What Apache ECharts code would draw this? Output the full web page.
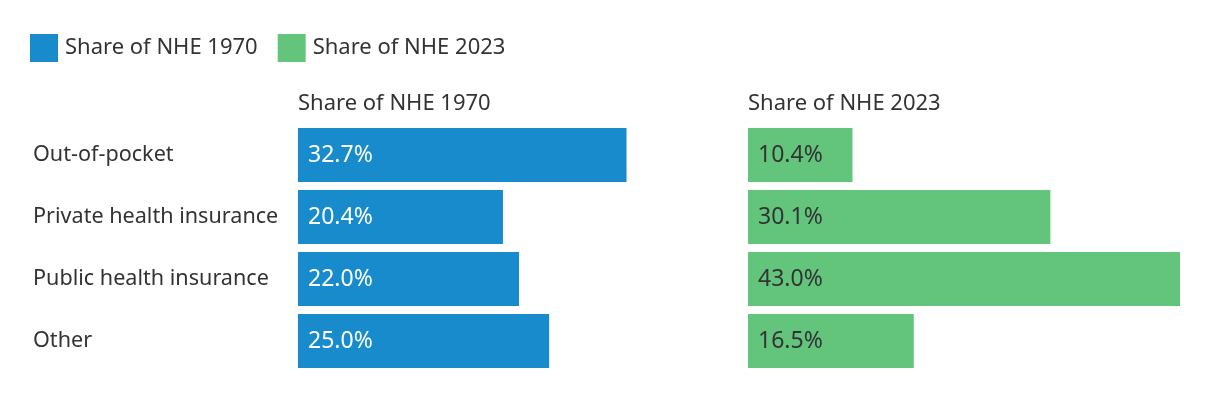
<!DOCTYPE html>
<html>
<head>
<meta charset="utf-8">
<script src="https://cdn.jsdelivr.net/npm/echarts@6/dist/echarts.min.js"></script>
<style>
  html, body { margin: 0; padding: 0; background: #fff; }
  #chart { width: 1220px; height: 398px; }
</style>
</head>
<body>
<div id="chart"></div>
<script>
const categories = ['Out-of-pocket', 'Private health insurance', 'Public health insurance', 'Other']
const share1970 = [32.7, 20.4, 22.0, 25.0]
const share2023 = [10.4, 30.1, 43.0, 16.5]
const seriesNames = ['Share of NHE 1970', 'Share of NHE 2023']

const chart = echarts.init(document.getElementById('chart'))
const font = '"Noto Sans", sans-serif'
const textColor = '#333333'
const blue = '#178bcb'
const green = '#63c57c'

const option = {
  textStyle: { fontFamily: font },
  legend: {
    left: 25,
    top: 29,
    icon: 'rect',
    itemWidth: 28,
    itemHeight: 28,
    itemGap: 20,
    data: seriesNames,
    textStyle: { fontSize: 22, color: textColor, fontFamily: font, padding: [0, 0, 0, 2] }
  },
  title: [
    { text: seriesNames[0], left: 293, top: 88, textStyle: { fontSize: 22, fontWeight: 'normal', color: textColor, fontFamily: font } },
    { text: seriesNames[1], left: 743, top: 88, textStyle: { fontSize: 22, fontWeight: 'normal', color: textColor, fontFamily: font } }
  ],
  grid: [
    { left: 298, top: 124, width: 432, height: 248 },
    { left: 748, top: 124, width: 432, height: 248 }
  ],
  xAxis: [0, 1].map(i => ({
    gridIndex: i, type: 'value', min: 0, max: 43, show: false
  })),
  yAxis: [0, 1].map(i => ({
    gridIndex: i,
    type: 'category',
    inverse: true,
    data: categories,
    axisLine: { show: false },
    axisTick: { show: false },
    axisLabel: {
      show: i === 0,
      align: 'left',
      margin: 265,
      fontSize: 21.6,
      color: textColor,
      fontFamily: font
    }
  })),
  series: [
    {
      name: seriesNames[0], type: 'bar', xAxisIndex: 0, yAxisIndex: 0,
      data: share1970, barWidth: 54, itemStyle: { color: blue },
      label: { show: true, position: 'insideLeft', distance: 10, fontSize: 23, color: '#ffffff', fontFamily: font, formatter: p => p.value.toFixed(1) + '%' }
    },
    {
      name: seriesNames[1], type: 'bar', xAxisIndex: 1, yAxisIndex: 1,
      data: share2023, barWidth: 54, itemStyle: { color: green },
      label: { show: true, position: 'insideLeft', distance: 10, fontSize: 23, color: textColor, fontFamily: font, formatter: p => p.value.toFixed(1) + '%' }
    }
  ]
}
chart.setOption(option)
</script>
</body>
</html>
